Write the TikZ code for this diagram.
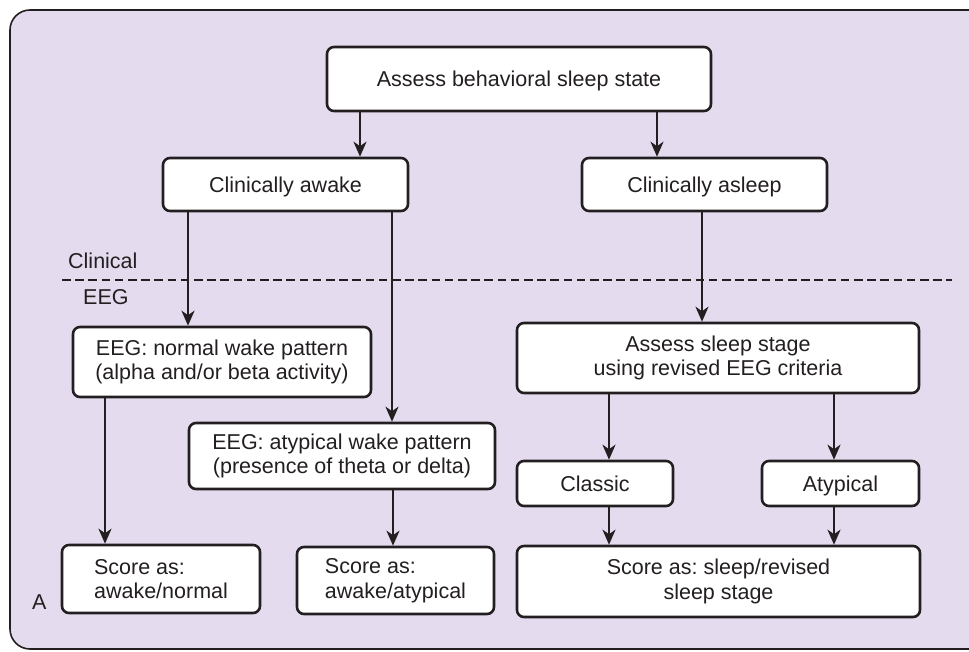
\documentclass[tikz,border=0pt]{standalone}
\usepackage{fontspec}
\setmainfont{Liberation Sans}
\frenchspacing
\usetikzlibrary{arrows.meta}
\definecolor{panelbg}{RGB}{228,220,238}
\definecolor{ink}{RGB}{35,31,32}
\tikzset{
  box/.style={draw=ink, fill=white, line width=2.6pt, rounded corners=7pt,
    inner sep=0pt, align=center, text=ink,
    font=\fontsize{21.5}{24.5}\selectfont},
  onebox/.style={box, text height=15.4pt, text depth=0pt},
  leftbox/.style={box, align=left},
  arr/.style={draw=ink, line width=2.5pt,
    -{Stealth[length=15pt, width=13pt, inset=4.5pt]}},
  divider/.style={draw=ink, line width=2.4pt, dash pattern=on 8.5pt off 4.7pt},
  tag/.style={inner sep=0pt, text=ink, font=\fontsize{21.5}{24.5}\selectfont},
}
\begin{document}
\begin{tikzpicture}[x=1pt, y=-1pt]
  \useasboundingbox (0,0) rectangle (969,651);
  % panel
  \fill[panelbg, draw=ink, line width=1.6pt, rounded corners=20pt]
    (10,10) rectangle (990,649);

  % boxes
  \node[onebox, minimum width=384pt, minimum height=64pt] (top) at (519,79)
    {Assess behavioral sleep state};
  \node[onebox, minimum width=245pt, minimum height=53pt] (awake) at (285.5,184.5)
    {Clinically awake};
  \node[onebox, minimum width=245pt, minimum height=53pt] (asleep) at (704.5,184.5)
    {Clinically asleep};
  \node[box, minimum width=298pt, minimum height=70pt] (normal) at (222,362)
    {EEG: normal wake pattern\\(alpha and/or beta activity)};
  \node[box, minimum width=306pt, minimum height=66pt] (atypwake) at (342,456)
    {EEG: atypical wake pattern\\(presence of theta or delta)};
  \node[leftbox, minimum width=198pt, minimum height=68pt] (scorenormal) at (161,579)
    {Score as:\\awake/normal};
  \node[leftbox, minimum width=197pt, minimum height=67pt] (scoreatyp) at (395.5,580.5)
    {Score as:\\awake/atypical};
  \node[box, minimum width=402pt, minimum height=70pt] (assess) at (718,358)
    {Assess sleep stage\\using revised EEG criteria};
  \node[onebox, minimum width=156pt, minimum height=45pt] (classic) at (595,483.5)
    {Classic};
  \node[onebox, minimum width=157pt, minimum height=45pt] (atypical) at (840.5,483.5)
    {Atypical};
  \node[box, minimum width=403pt, minimum height=71pt] (scoresleep) at (718.5,581.5)
    {Score as: sleep/revised\\sleep stage};

  % clinical / EEG divider
  \coordinate (divl) at (62,280);
  \coordinate (divr) at (952,280);
  \draw[divider] (divl) -- (divr);
  \node[tag, anchor=base west] (clin) at (68,268) {Clinical};
  \node[tag, anchor=base west] (eeg) at (83,304) {EEG};
  \node[tag, anchor=base west] (panel) at (32,609) {A};

  % connectors
  \draw[arr] (top.south -| 360,0) -- (awake.north -| 360,0);
  \draw[arr] (top.south -| 657,0) -- (asleep.north -| 657,0);
  \draw[arr] (awake.south -| 188,0) -- (normal.north -| 188,0);
  \draw[arr] (awake.south -| 392,0) -- (atypwake.north -| 392,0);
  \draw[arr] (asleep.south -| 702,0) -- (assess.north -| 702,0);
  \draw[arr] (normal.south -| 105,0) -- (scorenormal.north -| 105,0);
  \draw[arr] (atypwake.south -| 393,0) -- (scoreatyp.north -| 393,0);
  \draw[arr] (assess.south -| 609,0) -- (classic.north -| 609,0);
  \draw[arr] (assess.south -| 834,0) -- (atypical.north -| 834,0);
  \draw[arr] (classic.south -| 609,0) -- (scoresleep.north -| 609,0);
  \draw[arr] (atypical.south -| 834,0) -- (scoresleep.north -| 834,0);
\end{tikzpicture}
\end{document}
